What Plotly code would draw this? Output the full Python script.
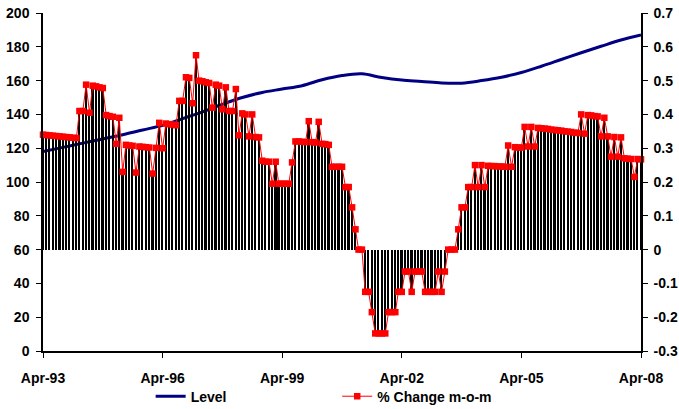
import pandas as pd
import plotly.graph_objects as go

# Monthly % change (right axis), Apr-93 .. Apr-08
pct_change = [
    .34, .339, .338, .337, .336, .335, .334, .333, .332, .331, .33,
    .41, .41, .488, .405, .485, .483, .48, .478, .398, .395, .393, .313,
    .39, .23, .31, .308, .307, .228, .305, .304, .303, .302, .225, .301, .375, .30,
    .373, .371, .37, .368, .44, .44, .51, .508, .433, .575, .50, .498, .495, .493,
    .42, .488, .485, .415, .48, .41, .41, .475,
    .338, .403, .40, .335, .40, .333, .332, .263, .26, .26, .195, .26, .195, .195,
    .195, .195, .258, .32, .32, .319, .318, .38, .318, .317, .378, .313, .312, .31,
    .245, .245, .245, .245,
    .185, .185, .125, .06, 0, 0, -.125, -.125, -.185, -.248, -.248, -.248, -.248,
    -.185, -.185, -.185, -.125, -.125, -.065, -.065, -.125, -.065, -.065, -.065,
    -.125, -.125, -.125, -.125, -.065, -.125, -.065, 0, 0, 0,
    .06, .125, .125, .185, .185, .25, .185, .25, .185, .248, .247, .247, .246,
    .246, .245, .308, .245, .303, .302, .302, .363, .305, .363, .305,
    .36, .359, .358, .357, .355, .354, .353, .352, .35, .349, .348, .346, .345,
    .40, .343, .398, .397, .395, .394, .335, .39, .335, .275, .333, .275, .332,
    .27, .269, .268, .215, .268, .267,
]
months = pd.date_range("1993-04-01", periods=len(pct_change), freq="MS")

# Index level (left axis), every six months
level = [118, 120.5, 123, 125.5, 128, 130.8, 133.5, 137.5, 141.5, 146, 150,
         153, 155, 157, 160.5, 163, 164, 161.8, 160.3, 159.5, 158.6, 158.5,
         160, 162, 164.8, 168.5, 172.5, 176.5, 180.3, 184, 187]
level_dates = pd.date_range("1993-04-01", periods=len(level), freq="6MS")

x_ticks = pd.date_range("1993-04-01", periods=6, freq="36MS")
x_ticklabels = ["Apr-93", "Apr-96", "Apr-99", "Apr-02", "Apr-05", "Apr-08"]
left_ticks = list(range(0, 201, 20))
right_ticks = [-0.3, -0.2, -0.1, 0, 0.1, 0.2, 0.3, 0.4, 0.5, 0.6, 0.7]
right_ticklabels = ["-0.3", "-0.2", "-0.1", "0", "0.1", "0.2", "0.3", "0.4", "0.5", "0.6", "0.7"]

FONT = dict(family="Liberation Sans, Arial, sans-serif", size=14, color="black", weight="bold")
bar_width_ms = 0.5 * 30.44 * 86400000

fig = go.Figure()
fig.add_trace(go.Bar(
    x=months, y=pct_change, yaxis="y2", width=bar_width_ms,
    marker=dict(color="black", line=dict(width=0)), showlegend=False,
    hoverinfo="skip",
))
fig.add_trace(go.Scatter(
    x=level_dates, y=level, name="Level", mode="lines",
    line=dict(color="#000080", width=3, shape="spline", smoothing=1.0),
    legend="legend",
))
fig.add_trace(go.Scatter(
    x=months, y=pct_change, yaxis="y2", name="% Change m-o-m", mode="lines+markers",
    line=dict(color="#FF0000", width=1),
    marker=dict(symbol="square", size=6.5, color="#FF0000"),
    cliponaxis=False, legend="legend2",
))

fig.update_layout(
    width=679, height=409,
    margin=dict(l=43, r=38, t=13, b=58, autoexpand=False),
    paper_bgcolor="white", plot_bgcolor="white",
    font=FONT,
    bargap=0,
    xaxis=dict(
        type="date", range=[months[0], months[-1]],
        tickvals=list(x_ticks), ticktext=x_ticklabels,
        ticks="outside", ticklen=5, tickcolor="black", tickfont=FONT,
        ticklabelstandoff=8,
        showline=True, linecolor="black", linewidth=1.5,
        showgrid=False, zeroline=False,
    ),
    yaxis=dict(
        range=[0, 200], tickvals=left_ticks,
        ticks="outside", ticklen=5, tickcolor="black", tickfont=FONT,
        ticklabelstandoff=4,
        showline=True, linecolor="black", linewidth=1.5,
        showgrid=False, zeroline=False,
    ),
    yaxis2=dict(
        range=[-0.3, 0.7], overlaying="y", side="right",
        tickvals=right_ticks, ticktext=right_ticklabels,
        ticks="outside", ticklen=5, tickcolor="black", tickfont=FONT,
        ticklabelstandoff=3,
        showline=True, linecolor="black", linewidth=1.5,
        showgrid=False, zeroline=False,
    ),
    legend=dict(x=0.18, y=-0.135, xanchor="left", yanchor="middle",
                orientation="h", font=FONT, bgcolor="rgba(0,0,0,0)", itemwidth=30),
    legend2=dict(x=0.492, y=-0.135, xanchor="left", yanchor="middle",
                 orientation="h", font=FONT, bgcolor="rgba(0,0,0,0)", itemwidth=30),
)

fig.write_html("out.html")
